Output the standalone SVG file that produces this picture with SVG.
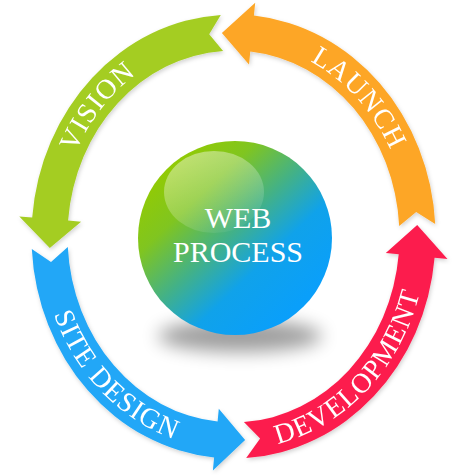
<svg xmlns="http://www.w3.org/2000/svg" xmlns:xlink="http://www.w3.org/1999/xlink" width="467" height="475" viewBox="0 0 467 475">
  <style>
    .lbl { font-family: "Liberation Serif", "Times New Roman", serif; fill: #ffffff; font-size: 28px; letter-spacing: 1px; }
    .center { font-family: "Liberation Serif", "Times New Roman", serif; fill: #ffffff; font-size: 30px; text-anchor: middle; }
    .arrow { filter: url(#ds); }
  </style>
  <defs>
    <filter id="ds" x="-10%" y="-10%" width="120%" height="120%">
      <feDropShadow dx="1" dy="2" stdDeviation="2" flood-color="#000" flood-opacity="0.18"/>
    </filter>
    <filter id="blur" x="-50%" y="-100%" width="200%" height="300%">
      <feGaussianBlur stdDeviation="9"/>
    </filter>
    <linearGradient id="ball" x1="0.12" y1="0.12" x2="0.82" y2="0.85">
      <stop offset="0" stop-color="#94cb00"/>
      <stop offset="0.25" stop-color="#80c520"/>
      <stop offset="0.5" stop-color="#42b188"/>
      <stop offset="0.72" stop-color="#10a2ea"/>
      <stop offset="1" stop-color="#0a9ffa"/>
    </linearGradient>
    <linearGradient id="hl" x1="0.2" y1="0" x2="0.7" y2="1">
      <stop offset="0" stop-color="#ffffff" stop-opacity="0.45"/>
      <stop offset="1" stop-color="#ffffff" stop-opacity="0.04"/>
    </linearGradient>
    <path id="p-vision" d="M 58.6 229.7 A 175 195 0 0 1 209.1 43.4"/>
    <path id="p-launch" d="M 245.7 42.0 A 175 195 0 0 1 407.5 216.1"/>
    <path id="p-site" d="M 42.2 264.3 A 193 213 0 0 0 225.1 449.3"/>
    <path id="p-dev" d="M 236.9 449.5 A 193 213 0 0 0 426.0 251.4"/>
  </defs>

  <rect width="467" height="475" fill="#ffffff"/>

  <g id="connectors">
    <g id="arrow-launch" class="arrow">
      <path fill="#fda626" d="M 435.2 224.1 A 202 222 0 0 0 253.9 15.6 L 255.2 2.7 L 221.9 32.9 L 249.0 64.4 L 250.3 51.5 A 166 186 0 0 1 399.2 226.1 L 416.2 212.0 Z"/>
      <text class="lbl"><textPath xlink:href="#p-launch" href="#p-launch" startOffset="50%" text-anchor="middle">LAUNCH</textPath></text>
    </g>
    <g id="arrow-vision" class="arrow">
      <path fill="#a4cd23" d="M 220.8 14.9 A 202 222 0 0 0 32.2 217.5 L 19.3 216.4 L 49.8 247.9 L 81.1 221.7 L 68.1 220.6 A 166 186 0 0 1 223.1 50.9 L 209.2 34.3 Z"/>
      <text class="lbl"><textPath xlink:href="#p-vision" href="#p-vision" startOffset="50%" text-anchor="middle">VISION</textPath></text>
    </g>
    <g id="arrow-site-design" class="arrow">
      <path fill="#22a7f7" d="M 31.8 248.9 A 202 222 0 0 0 214.1 457.5 L 212.9 470.4 L 245.1 440.1 L 218.8 408.7 L 217.6 421.6 A 166 186 0 0 1 67.8 246.9 L 51.0 262.1 Z"/>
      <text class="lbl"><textPath xlink:href="#p-site" href="#p-site" startOffset="50%" text-anchor="middle">SITE DESIGN</textPath></text>
    </g>
    <g id="arrow-development" class="arrow">
      <path fill="#fc1f4e" d="M 246.2 458.1 A 202 222 0 0 0 434.6 257.8 L 447.5 259.0 L 417.2 225.1 L 385.8 253.1 L 398.7 254.3 A 166 186 0 0 1 243.9 422.1 L 260.1 438.4 Z"/>
      <text class="lbl"><textPath xlink:href="#p-dev" href="#p-dev" startOffset="50%" text-anchor="middle">DEVELOPMENT</textPath></text>
    </g>
  </g>

  <g id="node-center">
    <ellipse cx="240" cy="336" rx="82" ry="16" fill="#000" opacity="0.38" filter="url(#blur)"/>
    <circle cx="235" cy="238" r="97" fill="url(#ball)"/>
    <ellipse cx="214" cy="192" rx="50" ry="41" fill="url(#hl)"/>
    <text class="center" x="238" y="228">WEB</text>
    <text class="center" x="238" y="262">PROCESS</text>
  </g>
</svg>
